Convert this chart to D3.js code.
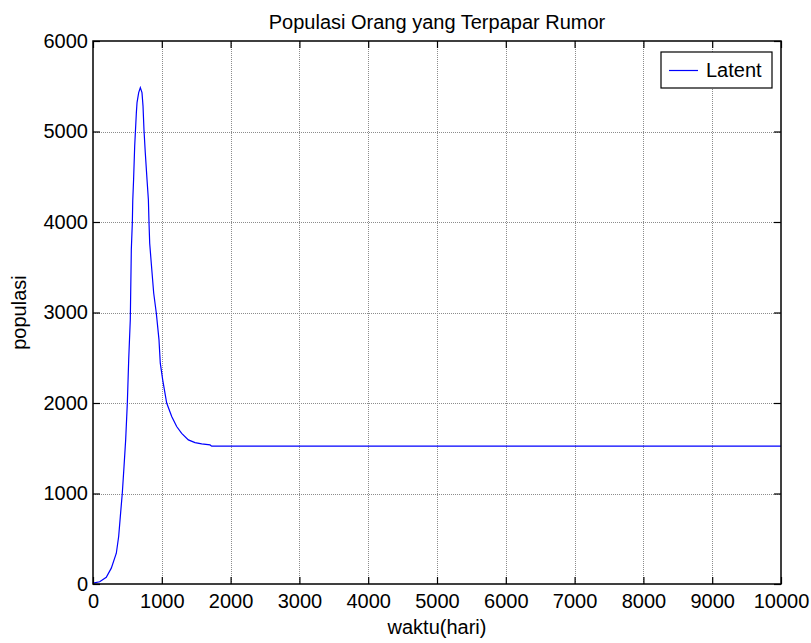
<!DOCTYPE html>
<html>
<head>
<meta charset="utf-8">
<script src="https://cdn.jsdelivr.net/npm/d3@7/dist/d3.min.js"></script>
<style>
  html, body { margin: 0; padding: 0; background: #fff; }
  svg { display: block; font-family: "Liberation Sans", Arial, sans-serif; }
</style>
</head>
<body>
<svg id="chart" width="811" height="643"></svg>
<script>
// Latent (rumour-exposed) population over time, in days
const waktu = [0, 97, 193, 266, 339, 373, 397, 426, 451, 475, 499, 519, 542, 557, 572, 578,
  590, 606, 630, 640, 664, 688, 712, 727, 741, 760, 785, 805, 814, 824, 847, 882, 920,
  959, 978, 1013, 1071, 1144, 1216, 1289, 1386, 1483, 1580, 1701, 1725, 2500, 4000, 6000,
  8000, 10000];
const latent = [10, 25, 75, 175, 340, 525, 745, 1005, 1300, 1595, 2000, 2480, 2920, 3695,
  4000, 4240, 4470, 4840, 5205, 5320, 5430, 5485, 5430, 5280, 5020, 4765, 4470, 4245,
  3995, 3765, 3545, 3215, 2995, 2700, 2440, 2255, 2000, 1850, 1740, 1665, 1592, 1563,
  1548, 1537, 1523, 1523, 1523, 1523, 1523, 1523];

const xTicks = [0, 1000, 2000, 3000, 4000, 5000, 6000, 7000, 8000, 9000, 10000];
const yTicks = [0, 1000, 2000, 3000, 4000, 5000, 6000];

const judul = "Populasi Orang yang Terpapar Rumor";
const labelX = "waktu(hari)";
const labelY = "populasi";
const namaSeri = "Latent";

const fontSize = 20;
const svg = d3.select("#chart");
const m = { left: 93, right: 781, top: 41, bottom: 584 };

const x = d3.scaleLinear().domain([0, 10000]).range([m.left, m.right]);
const y = d3.scaleLinear().domain([0, 6000]).range([m.bottom, m.top]);
const fmt = d3.format("d");

// Dotted grid
const grid = svg.append("g").attr("stroke", "#8c8c8c").attr("stroke-width", 1)
  .attr("stroke-dasharray", "1,1");
grid.selectAll("line.gx").data(xTicks.slice(1, -1)).join("line")
  .attr("x1", d => Math.round(x(d)) + 0.5).attr("x2", d => Math.round(x(d)) + 0.5)
  .attr("y1", m.top).attr("y2", m.bottom);
grid.selectAll("line.gy").data(yTicks.slice(1, -1)).join("line")
  .attr("y1", d => Math.round(y(d)) + 0.5).attr("y2", d => Math.round(y(d)) + 0.5)
  .attr("x1", m.left).attr("x2", m.right);

// Curve
const line = d3.line().x((d, i) => x(waktu[i])).y(d => y(d));
svg.append("path").datum(latent)
  .attr("fill", "none").attr("stroke", "#0000ff").attr("stroke-width", 1.2)
  .attr("d", line);

// Axes with inward ticks on all four sides
const tickLen = 7;
const axB = svg.append("g").attr("transform", `translate(0,${m.bottom})`)
  .call(d3.axisBottom(x).tickValues(xTicks).tickFormat(fmt).tickSizeInner(-tickLen).tickSizeOuter(0));
const axT = svg.append("g").attr("transform", `translate(0,${m.top})`)
  .call(d3.axisTop(x).tickValues(xTicks).tickSizeInner(-tickLen).tickSizeOuter(0).tickFormat(""));
const axL = svg.append("g").attr("transform", `translate(${m.left},0)`)
  .call(d3.axisLeft(y).tickValues(yTicks).tickFormat(fmt).tickSizeInner(-tickLen).tickSizeOuter(0));
const axR = svg.append("g").attr("transform", `translate(${m.right},0)`)
  .call(d3.axisRight(y).tickValues(yTicks).tickSizeInner(-tickLen).tickSizeOuter(0).tickFormat(""));

[axB, axT, axL, axR].forEach(a => {
  a.select(".domain").remove();
  a.selectAll(".tick line").attr("stroke", "#000").attr("stroke-width", 1.2);
  a.selectAll("text").attr("font-family", "Liberation Sans, Arial, sans-serif")
    .attr("font-size", fontSize).attr("fill", "#000");
});
axB.selectAll("text").attr("dy", "0.71em").attr("y", 10);
axL.selectAll("text").attr("x", -5);

// Frame
svg.append("rect").attr("x", m.left).attr("y", m.top)
  .attr("width", m.right - m.left).attr("height", m.bottom - m.top)
  .attr("fill", "none").attr("stroke", "#000").attr("stroke-width", 1.5);

// Title and axis labels
svg.append("text").attr("x", (m.left + m.right) / 2).attr("y", 29)
  .attr("text-anchor", "middle").attr("font-size", fontSize).text(judul);
svg.append("text").attr("x", (m.left + m.right) / 2).attr("y", 634)
  .attr("text-anchor", "middle").attr("font-size", fontSize).text(labelX);
svg.append("text")
  .attr("transform", `translate(26,${(m.top + m.bottom) / 2}) rotate(-90)`)
  .attr("text-anchor", "middle").attr("font-size", fontSize).text(labelY);

// Legend
const lg = { left: 661, top: 52, right: 772, bottom: 88 };
svg.append("rect").attr("x", lg.left).attr("y", lg.top)
  .attr("width", lg.right - lg.left).attr("height", lg.bottom - lg.top)
  .attr("fill", "#fff").attr("stroke", "#000").attr("stroke-width", 1.2);
svg.append("line").attr("x1", lg.left + 8).attr("x2", 698)
  .attr("y1", 70.5).attr("y2", 70.5).attr("stroke", "#0000ff").attr("stroke-width", 1.2);
svg.append("text").attr("x", 706).attr("y", 77).attr("font-size", fontSize).text(namaSeri);
</script>
</body>
</html>
